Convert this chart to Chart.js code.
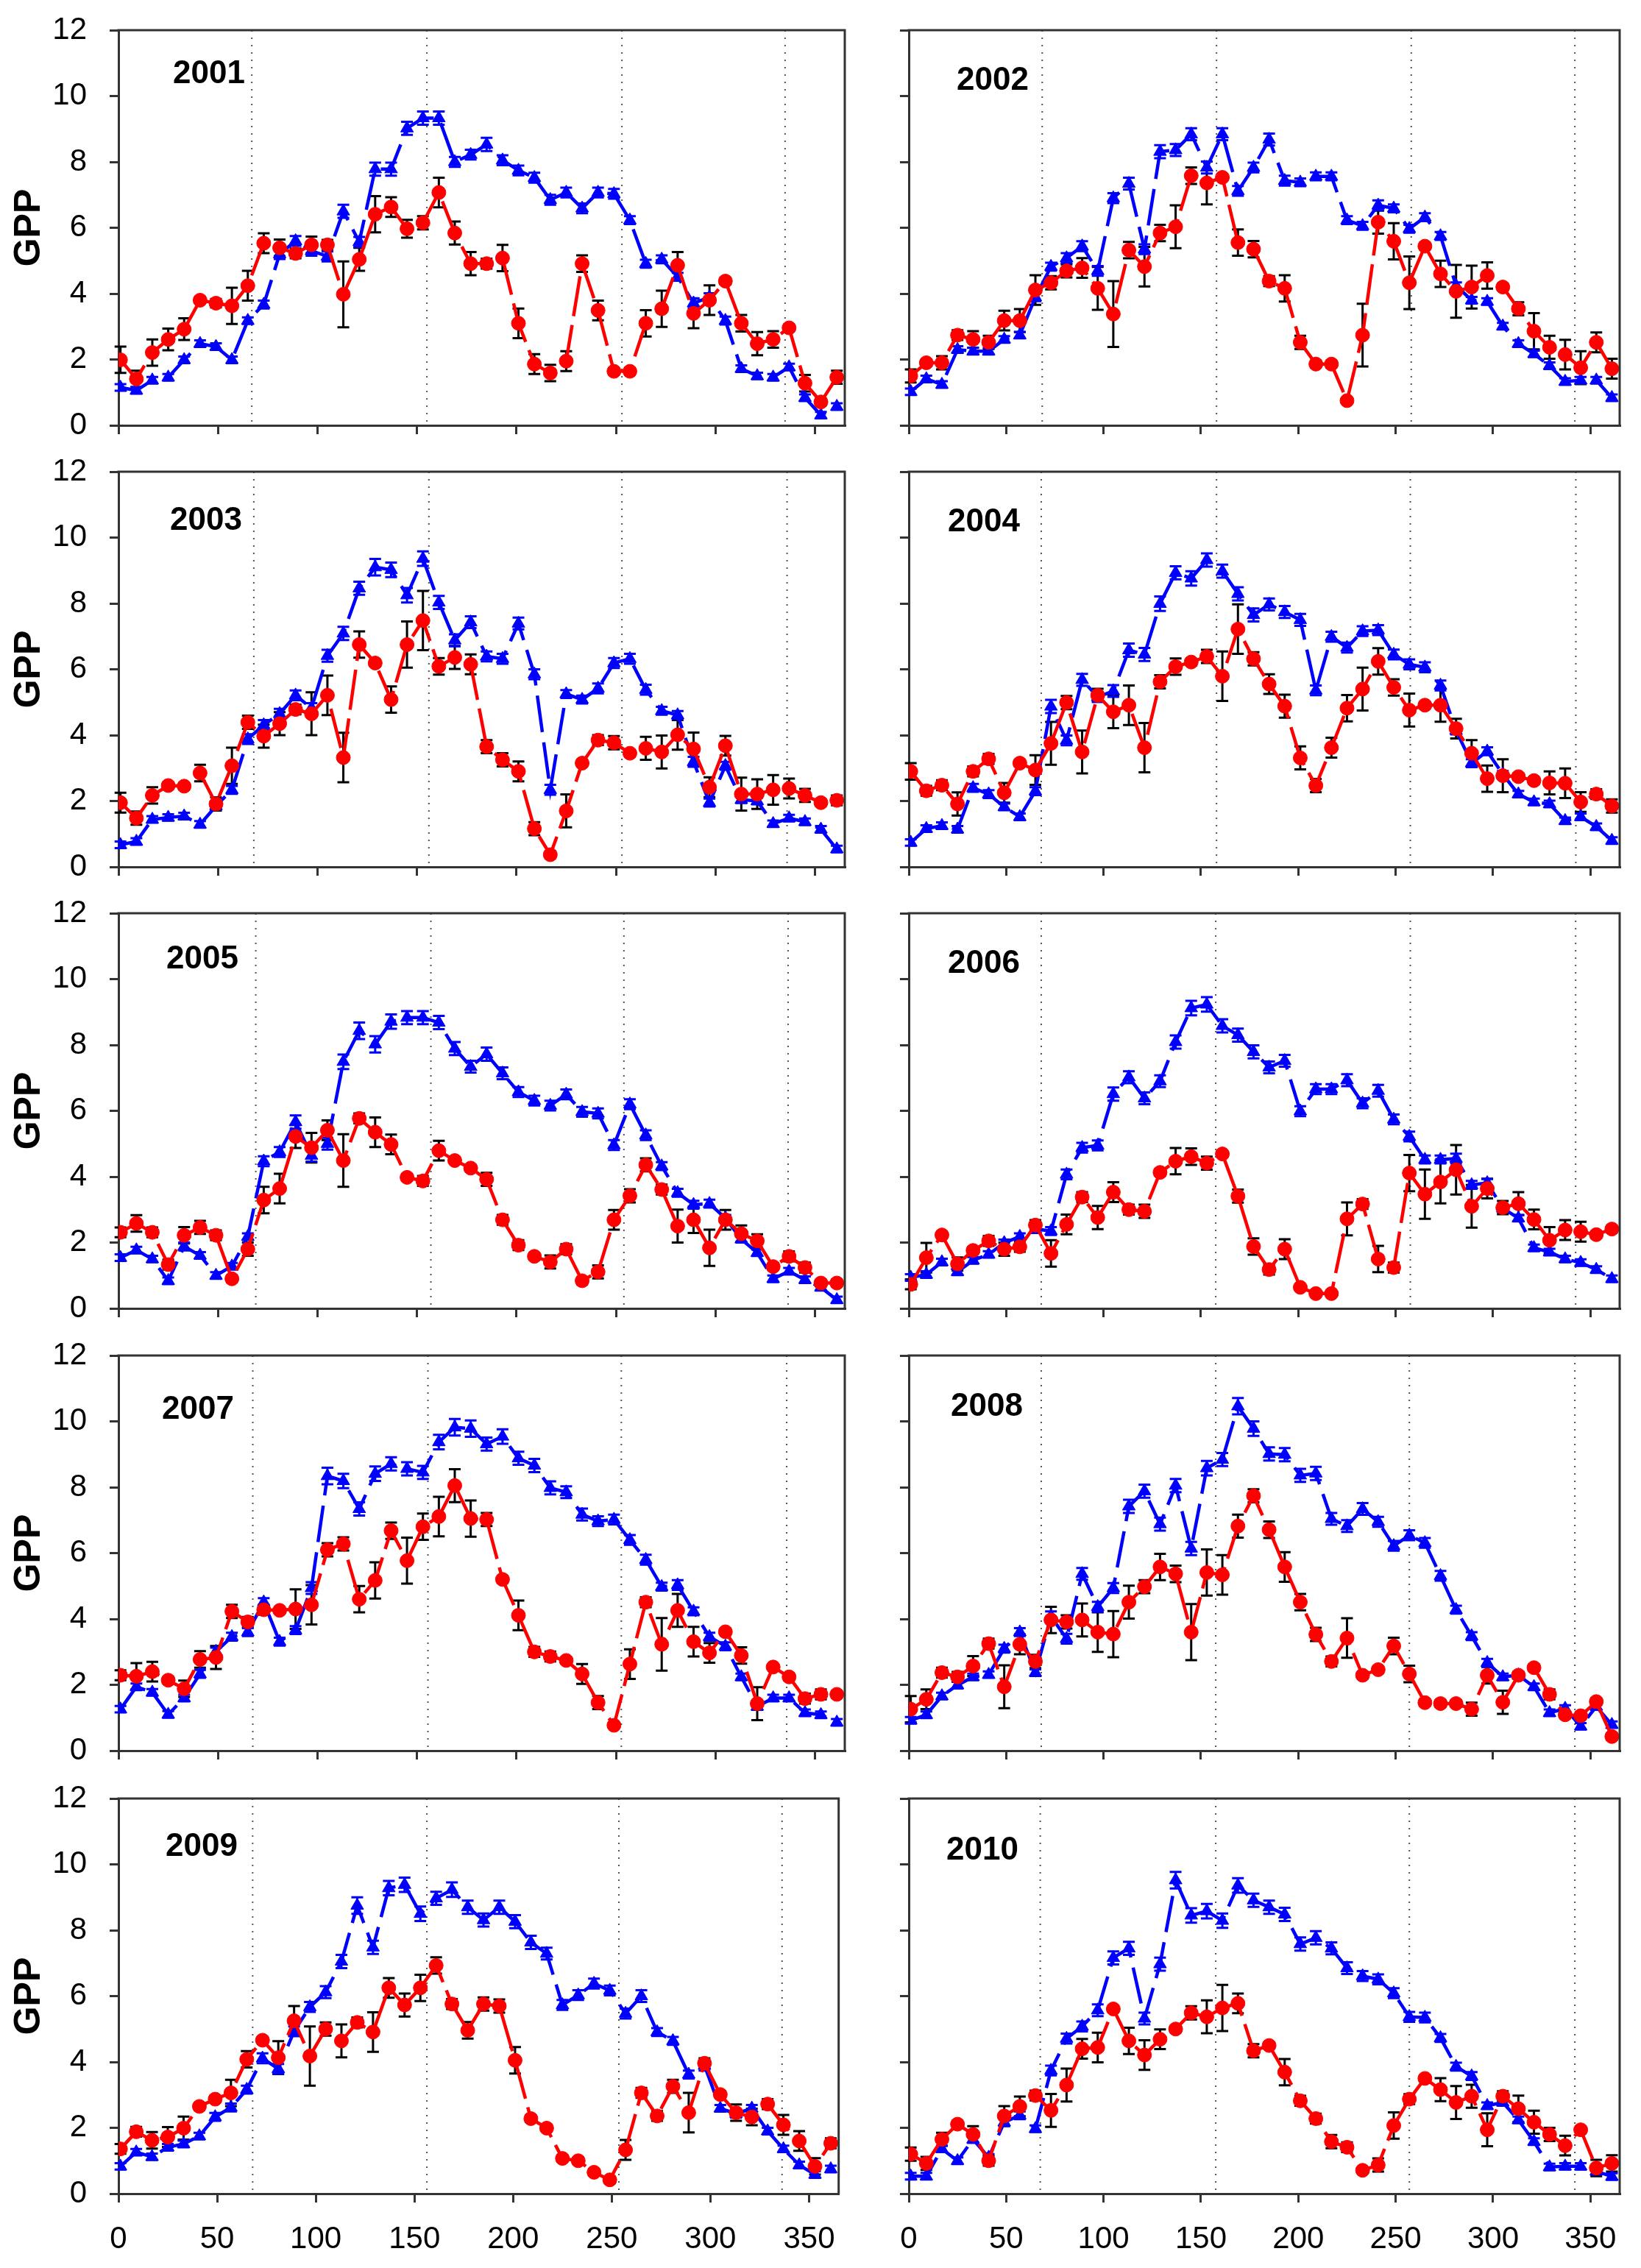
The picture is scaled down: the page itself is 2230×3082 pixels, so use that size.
<!DOCTYPE html>
<html>
<head>
<meta charset="utf-8">
<script src="https://cdn.jsdelivr.net/npm/chart.js@4.4.1/dist/chart.umd.min.js"></script>
<style>
  html, body { margin:0; padding:0; background:#fff; }
  #wrap { position:relative; width:2230px; height:3082px; background:#fff; overflow:hidden; }
  canvas { position:absolute; }
</style>
</head>
<body>
<div id="wrap"></div>
<script>
// ---------- data ----------
const days = [1,9,17,25,33,41,49,57,65,73,81,89,97,105,113,121,129,137,145,153,161,169,177,185,193,201,209,217,225,233,241,249,257,265,273,281,289,297,305,313,321,329,337,345,353,361];
const xTicks = [0,50,100,150,200,250,300,350];
const yTicks = [0,2,4,6,8,10,12];

const blue2001 = [1.15,1.06,1.37,1.46,1.99,2.48,2.39,1.99,3.18,3.67,5.2,5.6,5.3,5.13,6.5,5.57,7.78,7.78,9.02,9.33,9.33,8.0,8.22,8.53,8.05,7.74,7.52,6.85,7.07,6.59,7.07,7.03,6.23,4.91,5.04,4.51,3.71,3.89,3.18,1.72,1.5,1.46,1.77,0.84,0.31,0.57];
const red2001 = [1.99,1.41,2.21,2.61,2.92,3.8,3.71,3.63,4.24,5.53,5.39,5.22,5.48,5.48,3.98,5.04,6.41,6.63,5.97,6.15,7.07,5.84,4.91,4.91,5.08,3.1,1.86,1.59,1.95,4.91,3.49,1.64,1.64,3.1,3.54,4.86,3.4,3.8,4.38,3.1,2.48,2.61,2.96,1.28,0.71,1.46];
const blueErr2001 = [0.1,0.1,0.1,0.1,0.1,0.1,0.1,0.1,0.1,0.12,0.15,0.15,0.15,0.15,0.2,0.15,0.2,0.2,0.2,0.2,0.2,0.15,0.15,0.2,0.15,0.15,0.15,0.15,0.15,0.15,0.15,0.15,0.12,0.12,0.12,0.12,0.15,0.12,0.12,0.1,0.1,0.1,0.1,0.1,0.1,0.1];
const redErr2001 = [0.4,0.25,0.4,0.33,0.33,0.1,0.13,0.55,0.45,0.3,0.25,0.15,0.25,0.15,1.0,0.35,0.55,0.3,0.27,0.2,0.45,0.35,0.35,0.15,0.4,0.45,0.3,0.25,0.3,0.25,0.3,0.1,0.1,0.4,0.55,0.4,0.45,0.45,0.1,0.25,0.35,0.25,0.1,0.25,0.1,0.2];

const blue2002 = [1.02,1.41,1.24,2.3,2.25,2.25,2.61,2.74,3.89,4.82,5.08,5.44,4.69,6.9,7.34,5.35,8.31,8.36,8.84,7.83,8.84,7.12,7.83,8.68,7.43,7.38,7.56,7.56,6.23,6.06,6.68,6.59,5.97,6.32,5.75,4.24,3.8,3.76,3.01,2.48,2.17,1.81,1.33,1.37,1.37,0.84];
const red2002 = [1.5,1.9,1.9,2.74,2.61,2.52,3.18,3.18,4.11,4.33,4.69,4.78,4.16,3.38,5.32,4.82,5.84,6.03,7.58,7.36,7.53,5.55,5.35,4.38,4.16,2.52,1.86,1.86,0.75,2.74,6.17,5.59,4.33,5.44,4.6,4.07,4.2,4.55,4.2,3.54,2.86,2.37,2.15,1.75,2.52,1.72];
const blueErr2002 = [0.1,0.1,0.1,0.1,0.1,0.1,0.1,0.1,0.12,0.12,0.15,0.15,0.15,0.15,0.18,0.15,0.2,0.18,0.18,0.18,0.18,0.15,0.15,0.18,0.15,0.12,0.12,0.12,0.12,0.12,0.15,0.12,0.12,0.12,0.12,0.1,0.1,0.1,0.1,0.1,0.1,0.1,0.1,0.1,0.1,0.1];
const redErr2002 = [0.2,0.1,0.2,0.15,0.25,0.2,0.3,0.35,0.45,0.2,0.2,0.3,0.65,1.0,0.25,0.6,0.25,0.65,0.25,0.65,0.1,0.4,0.25,0.15,0.4,0.2,0.1,0.1,0.05,0.95,0.35,0.55,0.8,0.1,0.4,0.8,0.65,0.4,0.1,0.2,0.55,0.35,0.45,0.5,0.3,0.3];

const blue2003 = [0.67,0.77,1.44,1.5,1.54,1.29,1.85,2.34,3.88,4.31,4.65,5.21,4.82,6.41,7.09,8.46,9.1,9.02,8.25,9.36,8.03,6.88,7.43,6.39,6.32,7.39,5.85,2.34,5.25,5.08,5.42,6.19,6.32,5.38,4.74,4.61,3.19,1.95,3.07,2.04,2.0,1.31,1.48,1.37,1.14,0.54];
const red2003 = [1.95,1.48,2.17,2.47,2.45,2.85,1.91,3.07,4.39,3.97,4.35,4.78,4.65,5.21,3.32,6.75,6.19,5.08,6.75,7.48,6.09,6.36,6.15,3.65,3.25,2.9,1.16,0.37,1.7,3.15,3.85,3.77,3.45,3.6,3.49,4.01,3.58,2.42,3.68,2.21,2.21,2.34,2.38,2.17,1.95,2.02];
const blueErr2003 = [0.1,0.1,0.1,0.1,0.1,0.1,0.1,0.12,0.15,0.15,0.15,0.15,0.15,0.18,0.2,0.2,0.25,0.22,0.22,0.22,0.2,0.18,0.18,0.15,0.15,0.18,0.15,0.15,0.12,0.12,0.15,0.15,0.15,0.15,0.12,0.12,0.15,0.12,0.12,0.1,0.1,0.1,0.1,0.1,0.1,0.1];
const redErr2003 = [0.3,0.2,0.25,0.1,0.1,0.25,0.2,0.55,0.2,0.35,0.35,0.15,0.65,0.6,0.75,0.4,0.1,0.4,0.7,0.9,0.25,0.35,0.3,0.2,0.2,0.3,0.2,0.1,0.5,0.1,0.15,0.2,0.1,0.35,0.5,0.45,0.5,0.3,0.3,0.5,0.45,0.45,0.3,0.2,0.1,0.15];

const blue2004 = [0.74,1.16,1.25,1.14,2.4,2.21,1.82,1.52,2.3,4.87,3.84,5.68,5.16,5.34,6.58,6.45,7.99,8.93,8.76,9.32,8.98,8.29,7.65,7.97,7.74,7.5,5.36,6.99,6.66,7.16,7.19,6.45,6.15,6.06,5.51,4.14,3.15,3.51,2.81,2.21,1.97,1.91,1.4,1.52,1.22,0.8];
const red2004 = [2.9,2.31,2.48,1.91,2.9,3.28,2.25,3.15,2.94,3.75,4.99,3.49,5.21,4.71,4.91,3.62,5.62,6.08,6.22,6.39,5.79,7.22,6.32,5.55,4.88,3.31,2.47,3.62,4.82,5.4,6.24,5.45,4.76,4.91,4.91,4.2,3.45,2.68,2.77,2.74,2.62,2.55,2.54,1.97,2.21,1.85];
const blueErr2004 = [0.1,0.1,0.1,0.1,0.12,0.12,0.1,0.1,0.12,0.2,0.15,0.18,0.15,0.18,0.2,0.2,0.22,0.2,0.22,0.2,0.2,0.2,0.2,0.18,0.18,0.18,0.15,0.15,0.15,0.15,0.15,0.15,0.15,0.15,0.15,0.12,0.12,0.12,0.1,0.1,0.1,0.1,0.1,0.1,0.1,0.1];
const redErr2004 = [0.25,0.15,0.15,0.35,0.15,0.15,0.3,0.1,0.45,0.65,0.2,0.65,0.2,0.5,0.6,0.75,0.2,0.25,0.1,0.2,0.75,0.75,0.2,0.3,0.35,0.35,0.2,0.3,0.4,0.65,0.4,0.25,0.5,0.1,0.5,0.3,0.4,0.4,0.5,0.1,0.1,0.35,0.45,0.3,0.15,0.2];

const blue2005 = [1.54,1.77,1.5,0.84,1.88,1.61,1.0,1.28,2.18,4.47,4.75,5.66,4.64,5.0,7.49,8.43,8.02,8.71,8.83,8.83,8.68,7.89,7.34,7.72,7.14,6.57,6.31,6.16,6.5,5.97,5.92,4.96,6.2,5.26,4.32,3.51,3.15,3.18,2.74,2.1,1.69,0.9,1.13,0.87,0.64,0.26];
const red2005 = [2.31,2.58,2.31,1.33,2.22,2.46,2.22,0.9,1.8,3.29,3.64,5.22,4.88,5.41,4.49,5.77,5.35,4.98,3.98,3.87,4.79,4.49,4.26,3.92,2.69,1.92,1.58,1.41,1.8,0.84,1.11,2.69,3.42,4.36,3.61,2.5,2.69,1.84,2.69,2.27,2.05,1.27,1.58,1.24,0.77,0.77];
const blueErr2005 = [0.1,0.1,0.1,0.1,0.12,0.1,0.1,0.1,0.1,0.15,0.15,0.2,0.18,0.18,0.22,0.25,0.25,0.22,0.2,0.2,0.2,0.2,0.18,0.2,0.18,0.15,0.15,0.15,0.15,0.15,0.15,0.15,0.15,0.15,0.12,0.12,0.12,0.12,0.1,0.1,0.1,0.1,0.1,0.1,0.1,0.1];
const redErr2005 = [0.15,0.25,0.15,0.15,0.25,0.2,0.15,0.1,0.2,0.4,0.45,0.35,0.45,0.3,0.8,0.15,0.45,0.3,0.1,0.15,0.3,0.1,0.1,0.2,0.15,0.15,0.1,0.2,0.15,0.1,0.2,0.3,0.2,0.2,0.15,0.5,0.4,0.55,0.3,0.25,0.2,0.1,0.15,0.15,0.1,0.1];

const blue2006 = [0.94,1.03,1.41,1.11,1.46,1.64,1.99,2.18,2.41,2.35,4.07,4.88,4.95,6.51,7.02,6.38,6.9,8.09,9.12,9.23,8.58,8.3,7.79,7.32,7.52,5.99,6.66,6.66,6.93,6.23,6.61,5.74,5.22,4.52,4.52,4.55,3.75,3.81,3.04,2.74,1.84,1.71,1.5,1.39,1.18,0.9];
const red2006 = [0.73,1.54,2.23,1.35,1.76,2.05,1.8,1.87,2.53,1.67,2.55,3.38,2.76,3.53,3.0,2.95,4.13,4.47,4.61,4.41,4.69,3.41,1.88,1.18,1.8,0.64,0.45,0.45,2.72,3.17,1.5,1.24,4.11,3.47,3.84,4.21,3.1,3.64,3.06,3.18,2.7,2.07,2.38,2.33,2.24,2.41];
const blueErr2006 = [0.1,0.1,0.1,0.1,0.1,0.1,0.1,0.1,0.12,0.12,0.15,0.15,0.15,0.2,0.18,0.18,0.18,0.2,0.22,0.22,0.2,0.2,0.2,0.18,0.18,0.15,0.15,0.15,0.18,0.15,0.18,0.15,0.15,0.12,0.12,0.15,0.12,0.12,0.12,0.1,0.1,0.1,0.1,0.1,0.1,0.1];
const redErr2006 = [0.15,0.45,0.1,0.2,0.1,0.15,0.2,0.15,0.15,0.4,0.3,0.15,0.35,0.3,0.15,0.2,0.1,0.4,0.25,0.2,0.1,0.2,0.25,0.15,0.3,0.05,0.05,0.05,0.5,0.15,0.4,0.15,0.55,0.75,0.65,0.75,0.65,0.3,0.2,0.35,0.3,0.4,0.3,0.3,0.1,0.1];

const blue2007 = [1.26,1.94,1.77,1.1,1.6,2.33,3.01,3.46,3.6,4.51,3.31,3.66,4.94,8.34,8.19,7.34,8.41,8.71,8.56,8.45,9.37,9.82,9.78,9.31,9.54,8.88,8.66,7.98,7.85,7.17,6.97,7.02,6.4,5.8,4.98,5.03,4.23,3.46,3.17,2.24,1.34,1.6,1.6,1.15,1.09,0.86];
const red2007 = [2.29,2.26,2.4,2.14,1.88,2.77,2.83,4.23,3.91,4.28,4.26,4.3,4.43,6.1,6.28,4.6,5.17,6.68,5.77,6.8,7.11,8.05,7.05,7.02,5.2,4.11,3.0,2.86,2.74,2.33,1.46,0.77,2.63,4.51,3.23,4.26,3.31,2.97,3.61,2.89,1.43,2.54,2.24,1.58,1.71,1.71];
const blueErr2007 = [0.1,0.1,0.1,0.1,0.1,0.12,0.12,0.12,0.12,0.12,0.12,0.12,0.18,0.25,0.22,0.2,0.22,0.2,0.2,0.2,0.22,0.25,0.25,0.2,0.22,0.2,0.2,0.2,0.18,0.18,0.15,0.15,0.15,0.15,0.12,0.15,0.12,0.12,0.12,0.1,0.1,0.1,0.1,0.1,0.1,0.1];
const redErr2007 = [0.15,0.4,0.3,0.1,0.25,0.25,0.35,0.2,0.15,0.15,0.05,0.6,0.6,0.2,0.2,0.4,0.55,0.25,0.7,0.4,0.6,0.5,0.55,0.2,0.1,0.45,0.15,0.15,0.1,0.3,0.2,0.05,0.45,0.15,0.8,0.5,0.45,0.3,0.1,0.25,0.5,0.05,0.1,0.15,0.15,0.1];

const blue2008 = [0.92,1.09,1.66,1.99,2.24,2.31,3.1,3.6,2.37,4.08,3.4,5.37,4.37,4.94,7.42,7.88,6.88,8.05,6.14,8.58,8.84,10.46,9.78,9.01,8.99,8.36,8.42,7.04,6.82,7.34,6.95,6.22,6.54,6.31,5.31,4.28,3.48,2.67,2.24,2.29,1.94,1.15,1.28,0.74,1.34,0.79];
const red2008 = [1.26,1.56,2.37,2.24,2.57,3.25,1.94,3.23,2.71,3.97,3.91,3.97,3.6,3.54,4.51,4.98,5.58,5.37,3.6,5.41,5.34,6.82,7.74,6.71,5.58,4.51,3.53,2.71,3.42,2.29,2.46,3.18,2.33,1.46,1.43,1.43,1.26,2.29,1.47,2.29,2.52,1.71,1.09,1.06,1.49,0.43];
const blueErr2008 = [0.1,0.1,0.1,0.1,0.1,0.1,0.12,0.12,0.1,0.15,0.15,0.18,0.15,0.15,0.2,0.2,0.2,0.2,0.2,0.22,0.2,0.25,0.22,0.2,0.2,0.2,0.2,0.18,0.18,0.18,0.15,0.15,0.15,0.15,0.15,0.12,0.12,0.12,0.1,0.1,0.1,0.1,0.1,0.1,0.1,0.1];
const redErr2008 = [0.4,0.3,0.15,0.15,0.3,0.15,0.65,0.3,0.2,0.4,0.2,0.5,0.6,0.7,0.5,0.2,0.4,0.25,0.85,0.7,0.6,0.35,0.2,0.25,0.45,0.25,0.2,0.15,0.6,0.1,0.1,0.25,0.25,0.1,0.1,0.1,0.2,0.25,0.35,0.1,0.1,0.15,0.1,0.1,0.1,0.1];

const blue2009 = [0.83,1.26,1.12,1.41,1.51,1.75,2.33,2.62,3.16,4.11,3.79,4.93,5.67,6.12,7.05,8.75,7.48,9.28,9.38,8.5,8.97,9.23,8.7,8.31,8.7,8.26,7.63,7.29,5.73,6.03,6.38,6.17,5.47,6.0,4.91,4.64,3.62,3.89,2.59,2.43,2.59,1.9,1.36,0.87,0.58,0.75];
const red2009 = [1.36,1.88,1.62,1.72,1.99,2.65,2.87,3.06,4.08,4.66,4.13,5.25,4.18,5.0,4.64,5.2,4.91,6.25,5.73,6.25,6.93,5.76,4.96,5.76,5.7,4.05,2.28,1.99,1.07,1.0,0.65,0.42,1.33,3.06,2.36,3.26,2.46,3.96,3.01,2.46,2.33,2.72,2.09,1.6,0.83,1.53];
const blueErr2009 = [0.1,0.1,0.1,0.1,0.1,0.1,0.12,0.12,0.12,0.15,0.15,0.15,0.15,0.18,0.2,0.25,0.2,0.22,0.22,0.22,0.2,0.22,0.2,0.2,0.2,0.2,0.2,0.18,0.15,0.15,0.15,0.15,0.15,0.18,0.12,0.12,0.12,0.15,0.1,0.12,0.1,0.1,0.1,0.1,0.1,0.1];
const redErr2009 = [0.15,0.15,0.25,0.3,0.35,0.1,0.1,0.4,0.25,0.1,0.5,0.45,0.9,0.2,0.5,0.15,0.6,0.3,0.35,0.4,0.25,0.15,0.25,0.2,0.2,0.4,0.1,0.1,0.1,0.1,0.1,0.1,0.3,0.15,0.15,0.2,0.6,0.15,0.1,0.25,0.25,0.15,0.3,0.3,0.25,0.15];

const blue2010 = [0.53,0.53,1.36,1.0,1.65,1.1,2.17,2.38,1.97,3.74,4.71,5.08,5.57,7.16,7.45,5.32,6.97,9.52,8.45,8.58,8.29,9.36,8.91,8.7,8.48,7.58,7.77,7.45,6.85,6.61,6.51,6.09,5.37,5.35,4.73,3.86,3.57,2.67,2.77,2.24,1.58,0.81,0.83,0.83,0.68,0.52];
const red2010 = [1.2,0.92,1.65,2.11,1.8,1.0,2.36,2.65,2.98,2.53,3.3,4.4,4.44,5.61,4.64,4.21,4.69,5.0,5.49,5.37,5.64,5.78,4.34,4.5,3.69,2.82,2.28,1.58,1.41,0.71,0.87,2.07,2.87,3.5,3.16,2.77,2.96,1.94,2.96,2.58,2.17,1.8,1.46,1.94,0.78,0.92];
const blueErr2010 = [0.1,0.1,0.1,0.1,0.1,0.1,0.12,0.12,0.1,0.15,0.15,0.15,0.18,0.2,0.2,0.18,0.2,0.25,0.22,0.22,0.22,0.22,0.2,0.2,0.2,0.2,0.2,0.18,0.18,0.15,0.15,0.15,0.15,0.15,0.12,0.12,0.12,0.1,0.1,0.1,0.1,0.1,0.1,0.1,0.1,0.1];
const redErr2010 = [0.2,0.2,0.2,0.1,0.25,0.15,0.3,0.3,0.15,0.5,0.5,0.3,0.45,0.1,0.4,0.45,0.3,0.1,0.2,0.5,0.7,0.3,0.2,0.1,0.4,0.15,0.15,0.2,0.15,0.05,0.2,0.4,0.15,0.1,0.35,0.5,0.35,0.5,0.15,0.4,0.35,0.2,0.3,0.1,0.25,0.25];

// day-of-year of the dotted season boundaries, per year
const marks2001 = [67,155,253,335];
const marks2002 = [68.5,158,258,342];
const marks2003 = [68,156,253,336];
const marks2004 = [68,158,257.5,342.5];
const marks2005 = [69,157,254,336.5];
const marks2006 = [68,157.6,257.5,342.4];
const marks2007 = [67.5,155.5,252.7,335.8];
const marks2008 = [68,157.6,257,342];
const marks2009 = [68,156.3,253.6,336.3];
const marks2010 = [67.5,157.6,257,342];

const years = ['2001','2002','2003','2004','2005','2006','2007','2008','2009','2010'];

// ---------- layout ----------
const FONT = "'Liberation Sans', Arial, Helvetica, sans-serif";
const panels = [
  {year:years[0], blue:blue2001, red:red2001, be:blueErr2001, re:redErr2001, marks:marks2001, lx:74, ly:40},
  {year:years[1], blue:blue2002, red:red2002, be:blueErr2002, re:redErr2002, marks:marks2002, lx:65, ly:49},
  {year:years[2], blue:blue2003, red:red2003, be:blueErr2003, re:redErr2003, marks:marks2003, lx:70, ly:47},
  {year:years[3], blue:blue2004, red:red2004, be:blueErr2004, re:redErr2004, marks:marks2004, lx:53, ly:49},
  {year:years[4], blue:blue2005, red:red2005, be:blueErr2005, re:redErr2005, marks:marks2005, lx:65, ly:43},
  {year:years[5], blue:blue2006, red:red2006, be:blueErr2006, re:redErr2006, marks:marks2006, lx:53, ly:49},
  {year:years[6], blue:blue2007, red:red2007, be:blueErr2007, re:redErr2007, marks:marks2007, lx:59, ly:54},
  {year:years[7], blue:blue2008, red:red2008, be:blueErr2008, re:redErr2008, marks:marks2008, lx:57, ly:50},
  {year:years[8], blue:blue2009, red:red2009, be:blueErr2009, re:redErr2009, marks:marks2009, lx:64, ly:46},
  {year:years[9], blue:blue2010, red:red2010, be:blueErr2010, re:redErr2010, marks:marks2010, lx:51, ly:51}
];
const PAD_TOP = 60, PLOT_H = 537, XAXIS_H = 90;
const CAN_H = PAD_TOP + PLOT_H + XAXIS_H;
const chartTops = [41, 641, 1241, 1842, 2444];
const cols = [
  {left:0,    width:1160, yw:161, padR:12},
  {left:1160, width:1070, yw:75,  padR:29}
];
const FRAME = '#333333';

const decor = {
  id: 'decor',
  beforeDatasetsDraw(chart, args, o) {
    const {ctx, chartArea:{left,right,top,bottom}, scales:{x, y}} = chart;
    ctx.save();
    ctx.setLineDash([2,8]);
    ctx.lineWidth = 2;
    ctx.strokeStyle = '#555';
    o.marks.forEach(d => {
      const px = x.getPixelForValue(d);
      ctx.beginPath(); ctx.moveTo(px, top); ctx.lineTo(px, bottom); ctx.stroke();
    });
    ctx.setLineDash([]);
    chart.data.datasets.forEach((ds, i) => {
      const meta = chart.getDatasetMeta(i);
      ctx.strokeStyle = ds.errColor;
      ctx.lineWidth = 3;
      meta.data.forEach((pt, j) => {
        const e = ds.err[j];
        if (e == null) return;
        const v = ds.data[j].y;
        const y1 = y.getPixelForValue(v + e), y2 = y.getPixelForValue(v - e);
        const cx = pt.x, w = 8;
        ctx.beginPath();
        ctx.moveTo(cx, y1); ctx.lineTo(cx, y2);
        ctx.moveTo(cx - w, y1); ctx.lineTo(cx + w, y1);
        ctx.moveTo(cx - w, y2); ctx.lineTo(cx + w, y2);
        ctx.stroke();
      });
    });
    ctx.restore();
  },
  afterDraw(chart, args, o) {
    const {ctx, chartArea:{left,right,top,bottom}} = chart;
    ctx.save();
    ctx.strokeStyle = FRAME;
    ctx.lineWidth = 3;
    ctx.beginPath();
    ctx.moveTo(left - 1.5, top); ctx.lineTo(right, top); ctx.lineTo(right, bottom);
    ctx.stroke();
    ctx.fillStyle = '#000';
    ctx.font = 'bold 44px ' + FONT;
    ctx.textBaseline = 'alphabetic';
    ctx.textAlign = 'left';
    ctx.fillText(o.year, left + o.lx, top + o.ly + 32);
    ctx.restore();
  }
};

const wrap = document.getElementById('wrap');
panels.forEach((p, idx) => {
  const row = Math.floor(idx / 2), colI = idx % 2;
  const col = cols[colI];
  const isBottom = row === 4, isLeft = colI === 0;
  const cv = document.createElement('canvas');
  cv.width = col.width; cv.height = CAN_H;
  cv.style.left = col.left + 'px'; cv.style.top = (chartTops[row] - PAD_TOP) + 'px';
  cv.style.width = col.width + 'px'; cv.style.height = CAN_H + 'px';
  wrap.appendChild(cv);

  const mk = arr => arr.map((v, i) => ({x: days[i], y: v}));
  new Chart(cv.getContext('2d'), {
    type: 'line',
    data: {
      datasets: [
        {
          label: 'red', data: mk(p.red), err: p.re, errColor: '#000',
          borderColor: '#ff0000', backgroundColor: '#ff0000',
          borderWidth: 4.5, borderDash: [55, 12], tension: 0,
          pointStyle: 'circle', pointRadius: 9.5, pointBorderWidth: 1,
          pointBackgroundColor: '#ff0000', pointBorderColor: '#ff0000'
        },
        {
          label: 'blue', data: mk(p.blue), err: p.be, errColor: '#0000ff',
          borderColor: '#0000ff', backgroundColor: '#0000ff',
          borderWidth: 4.5, borderDash: [50, 14], tension: 0,
          pointStyle: 'triangle', pointRadius: 10, pointBorderWidth: 1,
          pointBackgroundColor: '#0000ff', pointBorderColor: '#0000ff'
        }
      ]
    },
    options: {
      responsive: false,
      animation: false,
      devicePixelRatio: 1,
      layout: { padding: { top: PAD_TOP, right: col.padR, left: 0, bottom: 0 } },
      plugins: {
        legend: { display: false },
        tooltip: { enabled: false },
        decor: { marks: p.marks, year: p.year, lx: p.lx, ly: p.ly }
      },
      scales: {
        x: {
          type: 'linear', min: 0, max: 365,
          afterFit: s => { s.height = XAXIS_H; },
          afterBuildTicks: s => { s.ticks = xTicks.map(v => ({value: v})); },
          ticks: { display: isBottom, stepSize: 50, includeBounds: false, color: '#000',
                   font: { family: FONT, size: 42 }, padding: 25, maxRotation: 0 },
          grid: { drawOnChartArea: false, drawTicks: true, tickLength: 12, color: FRAME, lineWidth: 3 },
          border: { display: true, color: FRAME, width: 3 }
        },
        y: {
          type: 'linear', min: 0, max: 12,
          afterFit: s => { s.width = col.yw; },
          afterBuildTicks: s => { s.ticks = yTicks.map(v => ({value: v})); },
          ticks: { display: isLeft, stepSize: 2, color: '#000',
                   font: { family: FONT, size: 42 }, padding: 31 },
          grid: { drawOnChartArea: false, drawTicks: true, tickLength: 12, color: FRAME, lineWidth: 3 },
          border: { display: true, color: FRAME, width: 3 },
          title: { display: isLeft, text: 'GPP', color: '#000',
                   font: { family: FONT, size: 50, weight: 'bold' }, padding: { top: 10, bottom: 0 } }
        }
      }
    },
    plugins: [decor]
  });
});
</script>
</body>
</html>
